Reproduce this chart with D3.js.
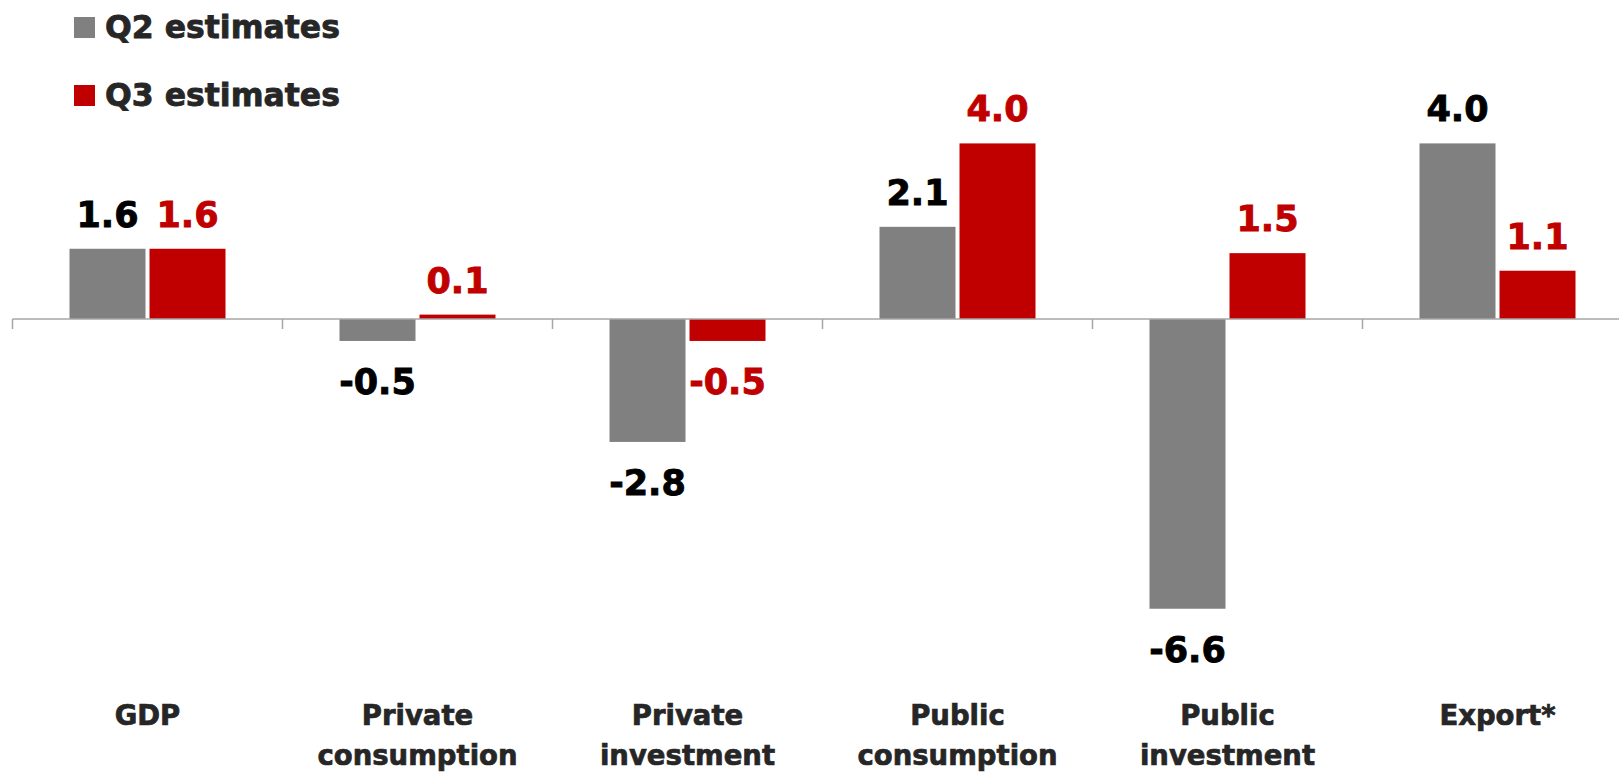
<!DOCTYPE html>
<html><head><meta charset="utf-8">
<script src="https://cdn.jsdelivr.net/npm/d3@7/dist/d3.min.js"></script>
<style>
html,body{margin:0;padding:0;background:#fff;overflow:hidden}
text{font-family:"DejaVu Sans",sans-serif;font-weight:bold}
</style></head>
<body>
<svg id="chart" width="1619" height="772"></svg>
<script>
const categories = [["GDP"],["Private","consumption"],["Private","investment"],["Public","consumption"],["Public","investment"],["Export*"]];
const seriesNames = ["Q2 estimates","Q3 estimates"];
const q2Values = [1.6,-0.5,-2.8,2.1,-6.6,4.0];
const q3Values = [1.6,0.1,-0.5,4.0,1.5,1.1];
const colors = ["#808080","#C00000"];
const labelColors = ["#000000","#C00000"];

const svg = d3.select("#chart");
const catKeys = categories.map(c=>c.join(" "));
const x0 = d3.scaleBand().domain(catKeys).range([12.5, 12.5+6*270]);
const x1 = d3.scaleBand().domain(seriesNames).range([0,156]).paddingInner(0.05);
const groupOffset = (x0.bandwidth()-156)/2;
const pxPerUnit = 43.9;
const y = d3.scaleLinear().domain([-7,5]).range([319+7*pxPerUnit, 319-5*pxPerUnit]);

const data = [];
catKeys.forEach((c,i)=>{
  data.push({cat:c, s:seriesNames[0], v:q2Values[i], si:0});
  data.push({cat:c, s:seriesNames[1], v:q3Values[i], si:1});
});

// bars
svg.append("g").selectAll("rect").data(data).join("rect")
  .attr("x", d=>x0(d.cat)+groupOffset+x1(d.s))
  .attr("width", x1.bandwidth())
  .attr("y", d=>y(Math.max(0,d.v)))
  .attr("height", d=>Math.abs(y(d.v)-y(0)))
  .attr("fill", d=>colors[d.si]);

// axis line
const axisG = svg.append("g");
axisG.append("line").attr("x1", x0.range()[0]).attr("x2", x0.range()[1])
  .attr("y1", y(0)).attr("y2", y(0)).attr("stroke","#a6a6a6").attr("stroke-width",1.5);
const tickPos = catKeys.map(c=>x0(c));
axisG.selectAll("line.tick").data(tickPos).join("line").attr("class","tick")
  .attr("x1",d=>d).attr("x2",d=>d).attr("y1",y(0)).attr("y2",y(0)+10)
  .attr("stroke","#a6a6a6").attr("stroke-width",1.5);

// value labels
svg.append("g").selectAll("text").data(data).join("text")
  .attr("x", d=>x0(d.cat)+groupOffset+x1(d.s)+x1.bandwidth()/2)
  .attr("y", d=> d.v>=0 ? y(d.v)-22 : y(d.v)+53)
  .attr("text-anchor","middle")
  .attr("font-size",35)
  .attr("fill", d=>labelColors[d.si])
  .attr("stroke", d=>labelColors[d.si]).attr("stroke-width",0.9)
  .text(d=>d3.format(".1f")(d.v).replace("−","-"));

// category labels
const catG = svg.append("g");
categories.forEach((lines,i)=>{
  const t = catG.append("text")
    .attr("x", x0(catKeys[i])+x0.bandwidth()/2)
    .attr("y", 725)
    .attr("text-anchor","middle")
    .attr("font-size",27.5)
    .attr("fill","#262626").attr("stroke","#262626").attr("stroke-width",0.7);
  lines.forEach((l,j)=>{
    t.append("tspan").attr("x", x0(catKeys[i])+x0.bandwidth()/2).attr("dy", j===0?0:40).text(l);
  });
});

// legend
const leg = svg.append("g");
seriesNames.forEach((s,i)=>{
  const yy = 17 + i*68;
  leg.append("rect").attr("x",74).attr("y",yy).attr("width",21).attr("height",21).attr("fill",colors[i]);
  leg.append("text").attr("x",105).attr("y",yy+21).attr("font-size",31.5)
    .attr("fill","#262626").attr("stroke","#262626").attr("stroke-width",0.8).text(s);
});
</script>
</body></html>
